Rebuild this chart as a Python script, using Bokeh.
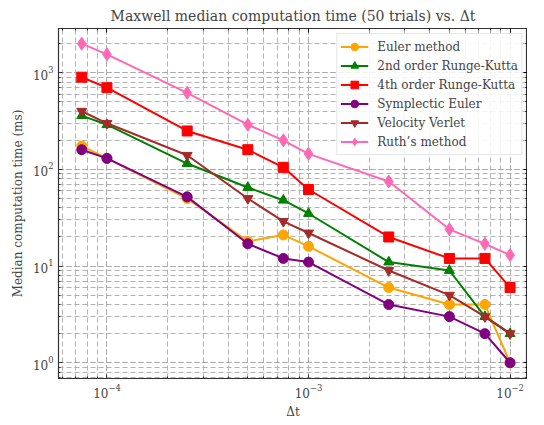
from bokeh.plotting import figure
from bokeh.models import LogAxis, Legend, LegendItem, CustomJSTickFormatter
from bokeh.embed import file_html
from bokeh.resources import INLINE

dt = [7.5e-5, 1e-4, 2.5e-4, 5e-4, 7.5e-4, 1e-3, 2.5e-3, 5e-3, 7.5e-3, 1e-2]
euler = [175, 130, 50, 18, 21, 16, 6, 4, 4, 1]
rk2 = [360, 290, 115, 65, 48, 35, 11, 9, 3, 2]
rk4 = [900, 700, 250, 160, 105, 62, 20, 12, 12, 6]
symp = [160, 130, 52, 17, 12, 11, 4, 3, 2, 1]
verlet = [400, 300, 140, 50, 29, 22, 9, 5, 3, 2]
ruth = [2000, 1550, 620, 290, 200, 145, 75, 24, 17, 13]

series = [
    ("Euler method", euler, "orange", "circle"),
    ("2nd order Runge-Kutta", rk2, "green", "triangle"),
    ("4th order Runge-Kutta", rk4, "red", "square"),
    ("Symplectic Euler", symp, "purple", "circle"),
    ("Velocity Verlet", verlet, "brown", "inverted_triangle"),
    ("Ruth\u2019s method", ruth, "hotpink", "diamond"),
]

FONT = "DejaVu Serif"

p = figure(frame_width=469, frame_height=350, x_axis_type="log", y_axis_type="log",
           x_range=(5.75e-5, 1.22e-2), y_range=(0.687, 2870),
           output_backend="svg", toolbar_location=None,
           title="Maxwell median computation time (50 trials) vs. \u0394t",
           min_border_left=58, min_border_right=0, min_border_top=7, min_border_bottom=4)

p.title.align = "center"
p.title.text_font = FONT
p.title.text_font_size = "14px"
p.title.text_font_style = "normal"

p.outline_line_color = "#333333"
p.outline_line_width = 1.2

for ax in (p.xaxis[0], p.yaxis[0]):
    ax.ticker.num_minor_ticks = 10
    ax.major_tick_in = 4
    ax.major_tick_out = 0
    ax.minor_tick_in = 2
    ax.minor_tick_out = 0
    ax.major_label_text_font = FONT
    ax.major_label_text_font_size = "12px"
    ax.axis_label_text_font = FONT
    ax.axis_label_text_font_size = "12px"
    ax.axis_label_text_font_style = "normal"
    ax.axis_line_color = "#333333"
    ax.major_tick_line_color = "#333333"
    ax.minor_tick_line_color = "#333333"

p.xaxis.axis_label = "\u0394t"
p.xaxis.axis_label_standoff = 4
p.yaxis.axis_label = "Median computation time (ms)"

for loc in ("above", "right"):
    ax = LogAxis(major_tick_in=4, major_tick_out=0, minor_tick_in=2, minor_tick_out=0,
                 axis_line_color="#333333", major_label_standoff=0,
                 major_label_text_font_size="1px",
                 formatter=CustomJSTickFormatter(code="return ''"))
    ax.ticker.num_minor_ticks = 10
    p.add_layout(ax, loc)

for g in (p.xgrid[0], p.ygrid[0]):
    g.grid_line_color = "#aaaaaa"
    g.grid_line_dash = "5 3"
    g.grid_line_alpha = 0.9
    g.minor_grid_line_color = "#aaaaaa"
    g.minor_grid_line_dash = "5 3"
    g.minor_grid_line_alpha = 0.9

items = []
for name, ys, color, marker in series:
    l = p.line(dt, ys, line_color=color, line_width=2)
    m = p.scatter(dt, ys, marker=marker, size=10 if marker != "diamond" else 13,
                  fill_color=color, line_color=color)
    items.append(LegendItem(label=name, renderers=[l, m]))

legend = Legend(items=items, location="top_right")
legend.label_text_font = FONT
legend.label_text_font_size = "12px"
legend.border_line_color = "#cccccc"
legend.background_fill_alpha = 0.85
legend.spacing = 0
legend.glyph_height = 19
legend.glyph_width = 28
legend.label_standoff = 9
legend.label_height = 19
legend.padding = 3
legend.margin = 5
p.add_layout(legend, "center")

open("out.html", "w").write(file_html(p, INLINE))
